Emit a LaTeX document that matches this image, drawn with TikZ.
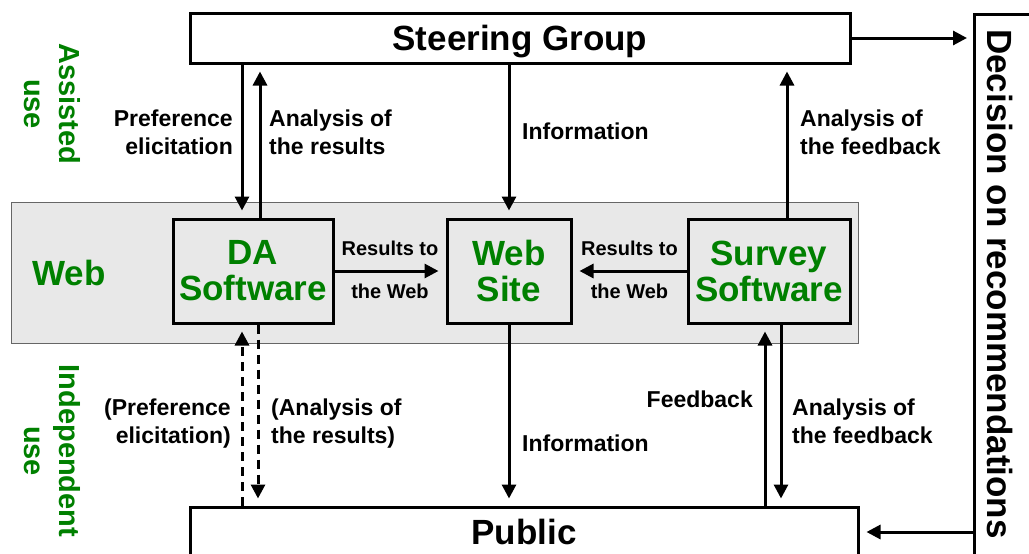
\documentclass[tikz,border=0pt]{standalone}
\usepackage{fontspec}
\setmainfont{Liberation Sans}
\usetikzlibrary{arrows.meta,calc}
\definecolor{webgreen}{RGB}{0,128,0}

\begin{document}
\begin{tikzpicture}[x=1pt,y=-1pt,
    box/.style={draw,line width=3pt,inner sep=0pt,font=\fontsize{35}{38}\selectfont\bfseries},
    arr/.style={line width=3pt,-{Triangle[length=14pt,width=14pt]},shorten >=7pt},
    dasharr/.style={arr,dash pattern=on 9pt off 6pt},
    lbl/.style={inner sep=0pt,font=\fontsize{23}{28}\selectfont\bfseries},
    smalllbl/.style={inner sep=0pt,font=\fontsize{20}{24}\selectfont\bfseries},
    gtext/.style={text=webgreen,align=center}]
    \useasboundingbox (0,0) rectangle (1029,554);
    \clip (0,0) rectangle (1029,554);
    % Web Bereich
    \node[draw=black!60,fill=black!9,line width=1pt,minimum width=847pt,minimum height=141pt] (webzone) at (434.5,272.5) {};
    \node[gtext,font=\fontsize{35}{38}\selectfont\bfseries] (weblbl) at (69,273) {Web};
    % Kaesten
    \node[box,text depth=0pt,minimum width=660pt,minimum height=50pt] (steer) at (520,38) {Steering Group};
    \node[box,text depth=0pt,minimum width=668pt,minimum height=50pt] (public) at (524,532) {Public};
    \node[box,anchor=north west,minimum width=90pt,minimum height=620pt] (decision) at (973,13) {};
    \node[rotate=-90,font=\fontsize{35}{38}\selectfont\bfseries] (declbl) at (1000,284) {Decision on recommendations};
    \node[box,gtext,fill=black!9,minimum width=160pt,minimum height=104pt] (da) at (253,271) {DA\\[-2pt]Software};
    \node[box,gtext,fill=black!9,minimum width=124pt,minimum height=104pt] (site) at (509,271) {Web\\[-2pt]Site};
    \node[box,gtext,fill=black!9,minimum width=162pt,minimum height=104pt] (survey) at (769,271) {Survey\\[-2pt]Software};
    % Nutzung
    \node[gtext,rotate=-90,font=\fontsize{29}{35}\selectfont\bfseries] (assisted) at (52,104) {Assisted\\use};
    \node[gtext,rotate=-90,font=\fontsize{29}{35}\selectfont\bfseries] (independent) at (52,451) {Independent\\use};
    % Pfeile oben
    \draw[arr] ([xshift=-11pt]da.north |- steer.south) -- ([xshift=-11pt]da.north);
    \draw[arr] ([xshift=7pt]da.north) -- ([xshift=7pt]da.north |- steer.south);
    \draw[arr] (site.north |- steer.south) -- (site.north);
    \draw[arr] ([xshift=18pt]survey.north) -- ([xshift=18pt]survey.north |- steer.south);
    \draw[arr,shorten >=6pt] (steer.east) -- (steer.east -| decision.west);
    % Pfeile Mitte
    \draw[arr] (da.east) -- node[smalllbl,above=14pt] (res1) {Results to} node[smalllbl,below=12pt] (web1) {the Web} (site.west);
    \draw[arr] (survey.west) -- node[smalllbl,above=14pt] (res2) {Results to} node[smalllbl,below=12pt] (web2) {the Web} (site.east);
    % Pfeile unten
    \draw[dasharr] ([xshift=-11pt]da.south |- public.north) -- ([xshift=-11pt]da.south);
    \draw[dasharr] ([xshift=5pt]da.south) -- ([xshift=5pt]da.south |- public.north);
    \draw[arr] (site.south) -- (site.south |- public.north);
    \draw[arr] ([xshift=-4pt]survey.south |- public.north) -- ([xshift=-4pt]survey.south);
    \draw[arr] ([xshift=12pt]survey.south) -- ([xshift=12pt]survey.south |- public.north);
    \draw[arr] (decision.west |- public.east) -- (public.east);
    % Beschriftungen
    \node[lbl,align=right,anchor=east] (pref) at (233,132) {Preference\\elicitation};
    \node[lbl,align=left,anchor=west] (anres) at (269,132) {Analysis of\\the results};
    \node[lbl,anchor=west] (info1) at (522,131) {Information};
    \node[lbl,align=left,anchor=west] (anfb) at (800,132) {Analysis of\\the feedback};
    \node[lbl,align=right,anchor=east] (pref2) at (231,424) {(Preference\\elicitation)};
    \node[lbl,align=left,anchor=west] (anres2) at (271,424) {(Analysis of\\the results)};
    \node[lbl,anchor=west] (info2) at (522,443) {Information};
    \node[lbl,anchor=east] (fb) at (753,399) {Feedback};
    \node[lbl,align=left,anchor=west] (anfb2) at (792,421) {Analysis of\\the feedback};
\end{tikzpicture}
\end{document}
